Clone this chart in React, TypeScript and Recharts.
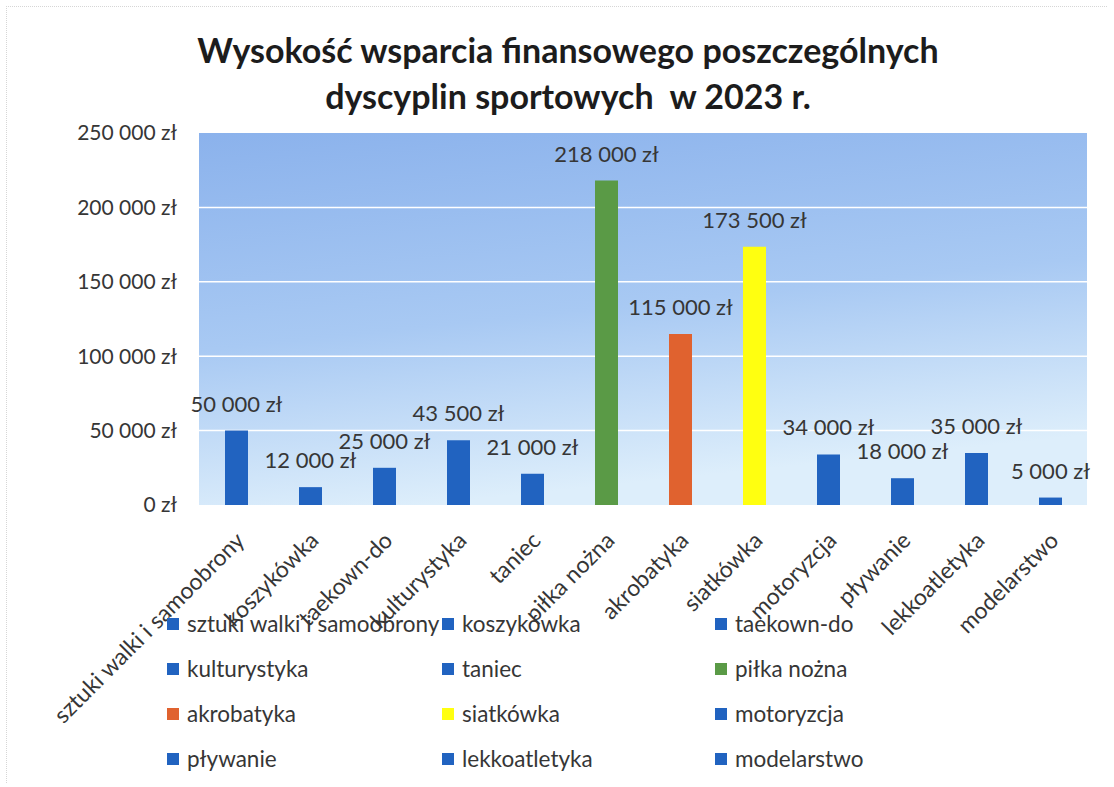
import React from 'react';
import { BarChart, Bar, XAxis, YAxis, CartesianGrid, Cell, LabelList, Legend } from 'recharts';

const categories = [
  'sztuki walki i samoobrony',
  'koszykówka',
  'taekown-do',
  'kulturystyka',
  'taniec',
  'piłka nożna',
  'akrobatyka',
  'siatkówka',
  'motoryzcja',
  'pływanie',
  'lekkoatletyka',
  'modelarstwo',
];
const amounts = [50000, 12000, 25000, 43500, 21000, 218000, 115000, 173500, 34000, 18000, 35000, 5000];
const yTicks = [0, 50000, 100000, 150000, 200000, 250000];
const gridValues = [50000, 100000, 150000, 200000];
const titleLines = ['Wysokość wsparcia finansowego poszczególnych', 'dyscyplin sportowych  w 2023 r.'];

const BLUE = '#2163c0';
const GREEN = '#5a9a46';
const ORANGE = '#e0622f';
const YELLOW = '#ffff10';
const barColors = [BLUE, BLUE, BLUE, BLUE, BLUE, GREEN, ORANGE, YELLOW, BLUE, BLUE, BLUE, BLUE];

const data = categories.map((name, i) => ({ name, value: amounts[i], color: barColors[i] }));

const FONT = 'Lato, "Open Sans", sans-serif';
const TEXT = '#363636';

const formatZl = (v: number) => String(v).replace(/\B(?=(\d{3})+(?!\d))/g, ' ') + ' zł';

const XTick = (props: any) => {
  const { x, y, payload } = props;
  const ax = x + 10;
  const ay = y + 37;
  return (
    <text
      x={ax}
      y={ay}
      textAnchor="end"
      transform={`rotate(-45, ${ax}, ${ay})`}
      fontSize={23}
      fill={TEXT}
      fontFamily={FONT}
    >
      {payload.value}
    </text>
  );
};

const ValueLabel = (props: any) => {
  const { x, y, width, value } = props;
  return (
    <text
      x={Number(x) + Number(width) / 2}
      y={Number(y) - 19}
      textAnchor="middle"
      fontSize={22}
      fill={TEXT}
      fontFamily={FONT}
    >
      {formatZl(Number(value))}
    </text>
  );
};

const LegendContent = () => (
  <div
    style={{
      display: 'grid',
      gridTemplateColumns: '275px 273px 200px',
      gridAutoRows: '45px',
      fontFamily: FONT,
      fontSize: 22.5,
      color: TEXT,
    }}
  >
    {data.map((d) => (
      <div key={d.name} style={{ display: 'flex', alignItems: 'center', whiteSpace: 'nowrap' }}>
        <span style={{ display: 'inline-block', width: 12, height: 12, background: d.color, marginRight: 8 }} />
        <span>{d.name}</span>
      </div>
    ))}
  </div>
);

export default function App() {
  return (
    <div
      style={{
        position: 'absolute',
        left: 0,
        top: 0,
        width: 1114,
        height: 787,
        background: '#ffffff',
        fontFamily: FONT,
        overflow: 'hidden',
      }}
    >
      <div
        style={{
          position: 'absolute',
          left: 6,
          top: 6,
          width: 1100,
          height: 776,
          borderTop: '1px dotted #d6d6d6',
          borderLeft: '1px dotted #d6d6d6',
        }}
      />
      <div
        style={{
          position: 'absolute',
          left: 0,
          top: 27,
          width: 1136,
          textAlign: 'center',
          fontFamily: FONT,
          fontWeight: 700,
          fontSize: 34,
          lineHeight: '46px',
          color: '#1c1c1c',
        }}
      >
        {titleLines.map((t) => (
          <div key={t} style={{ whiteSpace: 'pre' }}>{t}</div>
        ))}
      </div>
      <BarChart
        width={1114}
        height={787}
        data={data}
        margin={{ top: 133, right: 27, left: 99, bottom: 252 }}
        style={{ position: 'absolute', left: 0, top: 0 }}
      >
        <defs>
          <linearGradient id="bgGrad" x1="0" y1="0" x2="0.25" y2="1">
            <stop offset="0%" stopColor="#8bb2ec" />
            <stop offset="55%" stopColor="#a8c9f3" />
            <stop offset="100%" stopColor="#ddeefb" />
          </linearGradient>
        </defs>
        <CartesianGrid
          vertical={false}
          horizontalValues={gridValues}
          stroke="#ffffff"
          strokeWidth={1.5}
          fill="url(#bgGrad)"
          fillOpacity={1}
        />
        <XAxis
          dataKey="name"
          interval={0}
          tickLine={false}
          axisLine={false}
          tickSize={0}
          tickMargin={0}
          height={30}
          tick={<XTick />}
        />
        <YAxis
          domain={[0, 250000]}
          ticks={yTicks}
          tickFormatter={formatZl}
          tickLine={false}
          axisLine={false}
          tickSize={0}
          tickMargin={22}
          width={100}
          tick={{ fontSize: 21, fill: TEXT, fontFamily: FONT }}
        />
        <Legend
          layout="horizontal"
          verticalAlign="middle"
          align="center"
          content={<LegendContent />}
          wrapperStyle={{ left: 167, top: 601, width: 760, height: 180 }}
        />
        <Bar dataKey="value" barSize={23} isAnimationActive={false}>
          {data.map((d) => (
            <Cell key={d.name} fill={d.color} />
          ))}
          <LabelList dataKey="value" content={<ValueLabel />} />
        </Bar>
      </BarChart>
    </div>
  );
}
